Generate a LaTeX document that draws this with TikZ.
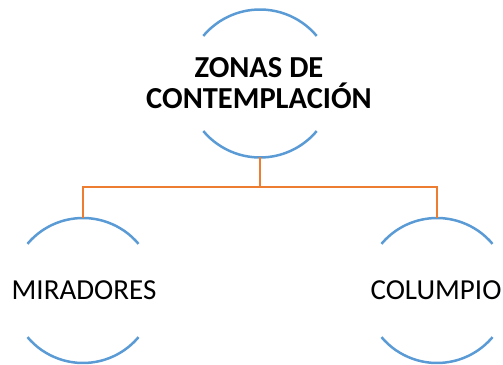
\documentclass[tikz,border=0pt]{standalone}
\usepackage{fontspec}
\setmainfont{Carlito}
\definecolor{arcblue}{HTML}{5B9BD5}
\definecolor{linkorange}{HTML}{ED7D31}
\begin{document}
\begin{tikzpicture}[x=1pt,y=1pt,
  ring/.style={circle,draw=none,inner sep=0pt,outer sep=0pt,minimum size=#1},
  arcline/.style={draw=arcblue,line width=2.5pt},
  link/.style={draw=linkorange,line width=2.5pt},
  lbl/.style={inner sep=0pt,align=center,font=\fontsize{29}{31}\selectfont}]
\useasboundingbox (0,0) rectangle (503,364);
\node[ring=148pt] (top) at (260,280.5) {};
\node[ring=145pt] (left) at (83,73.5) {};
\node[ring=145pt] (right) at (437,73.5) {};
\node[lbl,font=\fontsize{30.5}{31}\selectfont\bfseries] (toptext) at (259,281) {ZONAS DE\\CONTEMPLACIÓN};
\node[lbl] (lefttext) at (84,73.5) {MIRADORES};
\node[lbl] (righttext) at (436,73.5) {COLUMPIO};
\draw[arcline] (top.40) arc[start angle=40,end angle=140,radius=74pt];
\draw[arcline] (top.-140) arc[start angle=-140,end angle=-40,radius=74pt];
\draw[arcline] (left.40) arc[start angle=40,end angle=140,radius=72.5pt];
\draw[arcline] (left.-140) arc[start angle=-140,end angle=-40,radius=72.5pt];
\draw[arcline] (right.40) arc[start angle=40,end angle=140,radius=72.5pt];
\draw[arcline] (right.-140) arc[start angle=-140,end angle=-40,radius=72.5pt];
\coordinate (hub) at (260,177);
\draw[link] (top.south) -- (hub);
\draw[link] (hub) -| (left.north);
\draw[link] (hub) -| (right.north);
\end{tikzpicture}
\end{document}
